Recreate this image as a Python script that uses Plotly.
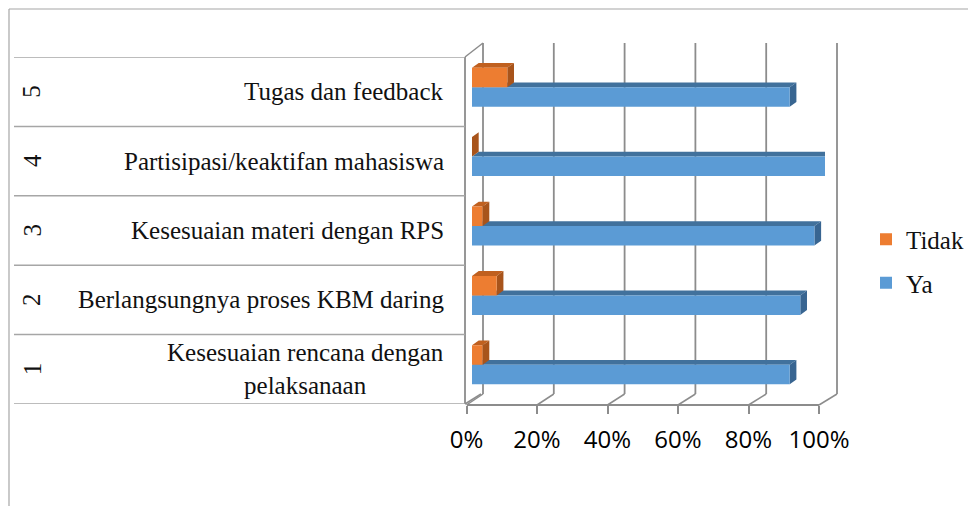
import plotly.graph_objects as go

# ---------------- data ----------------
numbers = ["1", "2", "3", "4", "5"]
categories = [
    "Kesesuaian rencana dengan<br>pelaksanaan",
    "Berlangsungnya proses KBM daring",
    "Kesesuaian materi dengan RPS",
    "Partisipasi/keaktifan mahasiswa",
    "Tugas dan feedback",
]
ya = [0.90, 0.93, 0.97, 1.00, 0.90]
tidak = [0.03, 0.07, 0.03, 0.00, 0.10]
tick_vals = [0, 0.2, 0.4, 0.6, 0.8, 1.0]
tick_text = ["0%", "20%", "40%", "60%", "80%", "100%"]

# ---------------- geometry helpers (screen pixel -> paper) ----------------
W, H = 976, 506
PAGE_MARGIN = 8   # default body margin of the html page
def PX(px):
    return (px - PAGE_MARGIN) / W
def PY(py):
    return 1 - (py - PAGE_MARGIN) / H

FRONT0, FRONT100 = 466.5, 819.0      # front floor edge
BACK0, BACK100 = 483.0, 837.0        # back wall
FLOOR_FRONT_Y, FLOOR_BACK_Y = 405.0, 394.0
WALL_TOP_Y = 43.0
ROW_TOP, ROW_BOT = 57.0, 404.0
BAR_X0, BAR_X100 = 472.0, 825.0
BAR_SHIFT = 4.5

BLUE, BLUE_DARK, BLUE_SIDE = "#5B9BD5", "#41719C", "#386591"
ORANGE, ORANGE_DARK, ORANGE_SIDE = "#ED7D31", "#C0601F", "#A8541B"
GRID = "#8C8C8C"
LINE = "#A6A6A6"

n = len(categories)
ypos = list(range(n))

fig = go.Figure()
fig.add_trace(go.Bar(
    name="Ya", y=ypos, x=ya, orientation="h",
    marker=dict(color=BLUE, line=dict(width=0)),
    legendgroup="ya", legendrank=2, hoverinfo="skip",
))
fig.add_trace(go.Bar(
    name="Tidak", y=ypos, x=tidak, orientation="h",
    marker=dict(color=ORANGE, line=dict(width=0)),
    legendgroup="tidak", legendrank=1, hoverinfo="skip",
))
# dummy trace carrying the front axis
fig.add_trace(go.Scatter(x=[0], y=[0], xaxis="x2", yaxis="y2", mode="markers",
                         marker=dict(opacity=0), showlegend=False, hoverinfo="skip"))

shapes = []
# --- outer frame
shapes.append(dict(type="line", xref="paper", yref="paper", x0=PX(9), x1=PX(9), y0=PY(9), y1=PY(520),
                   line=dict(color=LINE, width=1.2), layer="below"))
shapes.append(dict(type="line", xref="paper", yref="paper", x0=PX(9), x1=PX(990), y0=PY(9), y1=PY(9),
                   line=dict(color=LINE, width=1.2), layer="below"))

# --- back wall grid lines + floor diagonals
for t in tick_vals:
    xb = BACK0 + t * (BACK100 - BACK0)
    xf = FRONT0 + t * (FRONT100 - FRONT0)
    shapes.append(dict(type="line", xref="paper", yref="paper", x0=PX(xb), x1=PX(xb),
                       y0=PY(FLOOR_BACK_Y), y1=PY(WALL_TOP_Y), line=dict(color=GRID, width=1.8), layer="below"))
    shapes.append(dict(type="line", xref="paper", yref="paper", x0=PX(xf), x1=PX(xb),
                       y0=PY(FLOOR_FRONT_Y), y1=PY(FLOOR_BACK_Y), line=dict(color=GRID, width=1.5), layer="below"))

# --- left side wall edge + diagonals
shapes.append(dict(type="line", xref="paper", yref="paper", x0=PX(465), x1=PX(465), y0=PY(ROW_TOP), y1=PY(ROW_BOT),
                   line=dict(color=GRID, width=1.8), layer="below"))
shapes.append(dict(type="line", xref="paper", yref="paper", x0=PX(465), x1=PX(BACK0), y0=PY(ROW_TOP), y1=PY(WALL_TOP_Y),
                   line=dict(color=GRID, width=1.5), layer="below"))
shapes.append(dict(type="line", xref="paper", yref="paper", x0=PX(465), x1=PX(BACK0 - 2), y0=PY(ROW_BOT), y1=PY(FLOOR_BACK_Y),
                   line=dict(color=GRID, width=1.5), layer="below"))

# --- row divider lines of the category table
for k in range(n + 1):
    shapes.append(dict(type="line", xref="paper", yref="y2", x0=PX(14), x1=PX(465), y0=k - 0.5, y1=k - 0.5,
                       line=dict(color=LINE, width=1.5), layer="below"))

# --- 3D faces of the bars (computed from the data)
row_px = (ROW_BOT - ROW_TOP) / n
h = 19.5 / row_px / 2
dy = 4.8 / row_px
dx = 6.7 / (BAR_X100 - BAR_X0)
def faces(vals, offset, top_col, side_col):
    out = []
    for i, v in enumerate(vals):
        c = i + offset
        top = f"M 0,{c+h} L {v},{c+h} L {v+dx},{c+h+dy} L {dx},{c+h+dy} Z"
        side = f"M {v},{c-h} L {v},{c+h} L {v+dx},{c+h+dy} L {v+dx},{c-h+dy} Z"
        out.append(dict(type="path", xref="x", yref="y", path=top, fillcolor=top_col,
                        line=dict(width=0), layer="below"))
        out.append(dict(type="path", xref="x", yref="y", path=side, fillcolor=side_col,
                        line=dict(width=0), layer="below"))
    return out
shapes += faces(ya, -h, BLUE_DARK, BLUE_SIDE)
shapes += faces(tidak, h, ORANGE_DARK, ORANGE_SIDE)

# --- category annotations
annotations = []
for i, (num, cat) in enumerate(zip(numbers, categories)):
    annotations.append(dict(xref="paper", yref="y2", x=PX(446), y=i, text=cat, showarrow=False,
                            xanchor="right", yanchor="middle", align="center",
                            font=dict(family="Liberation Serif", size=25, color="#111111")))
    annotations.append(dict(xref="paper", yref="y2", x=PX(32), y=i, text=num, showarrow=False,
                            textangle=-90, xanchor="center", yanchor="middle",
                            font=dict(family="Liberation Serif", size=25, color="#111111")))

fig.update_layout(
    width=W, height=H,
    margin=dict(l=0, r=0, t=0, b=0, pad=0, autoexpand=False),
    paper_bgcolor="white", plot_bgcolor="rgba(0,0,0,0)",
    barmode="group", bargap=1 - 2 * 19.5 / row_px, bargroupgap=0,
    showlegend=True,
    legend=dict(x=PX(866), y=PY(261), xanchor="left", yanchor="middle",
                traceorder="grouped", tracegroupgap=8,
                font=dict(family="Liberation Serif", size=25, color="#111111"),
                bgcolor="rgba(0,0,0,0)"),
    xaxis=dict(domain=[PX(BAR_X0), PX(BAR_X100)], range=[0, 1], visible=False, fixedrange=True),
    yaxis=dict(domain=[PY(ROW_BOT - BAR_SHIFT), PY(ROW_TOP - BAR_SHIFT)], range=[-0.5, n - 0.5],
               visible=False, fixedrange=True),
    xaxis2=dict(domain=[PX(FRONT0), PX(FRONT100)], range=[0, 1], anchor="free", position=PY(FLOOR_FRONT_Y),
                tickvals=tick_vals, ticktext=tick_text, showgrid=False, zeroline=False,
                showline=True, linecolor=GRID, linewidth=1.5,
                ticks="outside", ticklen=8, tickwidth=1.5, tickcolor=GRID, ticklabelstandoff=5,
                tickfont=dict(family="Open Sans", size=24, color="#000000"), fixedrange=True),
    yaxis2=dict(domain=[PY(ROW_BOT), PY(ROW_TOP)], range=[-0.5, n - 0.5], anchor="x2",
                visible=False, fixedrange=True),
    shapes=shapes,
    annotations=annotations,
)

fig.write_html("out.html")
